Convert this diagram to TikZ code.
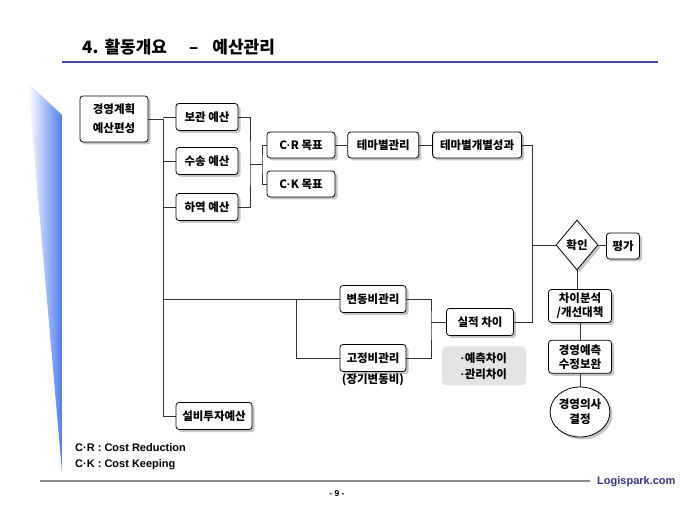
\documentclass[tikz,border=0pt]{standalone}
\usepackage{fontspec}
\setmainfont{Noto Sans CJK KR}
\newfontfamily\latinfont{Liberation Sans}
\usetikzlibrary{positioning, shapes.geometric, shadows}
\definecolor{titleblue}{RGB}{72,72,176}
\definecolor{wedgeblue}{RGB}{80,125,240}
\definecolor{siteblue}{RGB}{52,52,140}
\newcommand\boxfont{\fontsize{11.5}{15}\selectfont\bfseries}
\newcommand\dotmark{{\latinfont·}}
\tikzset{box/.style={draw, rounded corners=3pt, fill=white, line width=0.8pt,
    font=\boxfont, align=center, inner sep=1pt, minimum height=27pt,
    drop shadow={shadow xshift=2.5pt, shadow yshift=-2.5pt, fill=black!45}}}
\tikzset{link/.style={draw=black!80, line width=0.8pt}}
\begin{document}
\begin{tikzpicture}[x=1pt, y=-1pt]
  \fill[white] (0,0) rectangle (680,510);
  \useasboundingbox (0,0) rectangle (680,510);

  % header and side decoration
  \shade[left color=white, right color=wedgeblue] (28,83) -- (62,115) -- (62,472) -- cycle;
  \node[anchor=base west, inner sep=0pt, font=\fontsize{17}{20}\selectfont\bfseries] (title) at (82,54)
    {4.\hspace{6pt}활동개요\hspace{22pt}–\hspace{14pt}예산관리};
  \draw[titleblue, line width=2pt] (62,62) -- (658,62);

  % budget planning
  \node[box, minimum width=68pt, minimum height=46pt] (plan) at (114,119) {경영계획\\[4pt]예산편성};
  \node[box, minimum width=62pt] (storage) at (207,117) {보관 예산};
  \node[box, minimum width=62pt] (transport) at (207,161) {수송 예산};
  \node[box, minimum width=62pt] (handling) at (207,207) {하역 예산};
  \node[box, minimum width=76pt] (capex) at (214,416) {설비투자예산};

  % targets
  \node[box, minimum width=68pt, minimum height=26pt] (cr) at (301,145) {C\dotmark R 목표};
  \node[box, minimum width=68pt, minimum height=26pt] (ck) at (301,184) {C\dotmark K 목표};
  \node[box, minimum width=71pt, minimum height=26pt, right=12pt of cr] (theme) {테마별관리};
  \node[box, minimum width=89pt, minimum height=26pt, right=13pt of theme] (result) {테마별개별성과};

  % cost control
  \node[box, minimum width=66pt] (variable) at (373,299) {변동비관리};
  \node[box, minimum width=66pt] (fixed) at (373,358) {고정비관리};
  \node[below=1pt of fixed, inner sep=1pt, font=\boxfont] (fixednote) {(장기변동비)};
  \node[box, minimum width=67pt] (actual) at (480,322) {실적 차이};
  \node[fill=black!11, rounded corners=4pt, minimum width=84pt, minimum height=39pt,
    align=center, inner sep=1pt, font=\fontsize{11.5}{16}\selectfont\bfseries] (variance) at (484,366)
    {\dotmark 예측차이\\\dotmark 관리차이};

  % review
  \node[draw, diamond, fill=white, line width=0.8pt, minimum width=42pt, minimum height=50pt,
    inner sep=0pt, font=\boxfont, drop shadow={shadow xshift=2.5pt, shadow yshift=-2.5pt, fill=black!45}]
    (check) at (577,245) {확인};
  \node[box, minimum width=33pt, minimum height=26pt] (eval) at (623,246) {평가};
  \node[box, minimum width=63pt, minimum height=33pt, font=\fontsize{11.5}{14}\selectfont\bfseries]
    (gap) at (580,306) {차이분석\\/개선대책};
  \node[box, minimum width=63pt, minimum height=33pt, font=\fontsize{11.5}{14}\selectfont\bfseries,
    below=17pt of gap] (forecast) {경영예측\\수정보완};
  \node[draw, ellipse, fill=white, line width=0.8pt, minimum width=56pt, minimum height=50pt,
    inner sep=0pt, align=center, font=\fontsize{11.5}{15}\selectfont\bfseries,
    drop shadow={shadow xshift=2.5pt, shadow yshift=-2.5pt, fill=black!45}]
    (decide) at (580,412) {경영의사\\결정};

  % connectors
  \coordinate (spine) at (163,119);
  \draw[link] (plan.east) -- (spine);
  \draw[link] (spine |- storage) -- (storage.west);
  \draw[link] (spine) |- (capex.west);
  \draw[link] (spine |- transport) -- (transport.west);
  \draw[link] (spine |- handling) -- (handling.west);
  \draw[link] (spine |- variable) -- (variable.west);

  \coordinate (opsjoin) at (250,164);
  \coordinate (goalsplit) at (262,164);
  \draw[link] (storage.east) -| (opsjoin) |- (handling.east);
  \draw[link] (opsjoin) -- (goalsplit);
  \draw[link] (cr.west) -| (goalsplit) |- (ck.west);
  \draw[link] (cr) -- (theme);
  \draw[link] (theme) -- (result);

  \coordinate (resultdrop) at (532,145);
  \draw[link] (result.east) -- (resultdrop) |- (actual.east);
  \draw[link] (resultdrop |- check) -- (check.west);
  \draw[link] (check) -- (eval);
  \draw[link] (check.south) -- (check.south |- gap.north);
  \draw[link] (gap) -- (forecast);
  \draw[link] (forecast) -- (decide);

  \coordinate (costsplit) at (296,299);
  \draw[link] (costsplit) |- (fixed.west);
  \coordinate (costjoin) at (431,322);
  \draw[link] (variable.east) -| (costjoin) |- (fixed.east);
  \draw[link] (costjoin) -- (actual.west);

  % legend and footer
  \node[anchor=base west, inner sep=0pt, font=\latinfont\fontsize{11}{13}\selectfont\bfseries] (legendcr) at (75,451) {C·R : Cost Reduction};
  \node[anchor=base west, inner sep=0pt, font=\latinfont\fontsize{11}{13}\selectfont\bfseries] (legendck) at (75,467) {C·K : Cost Keeping};
  \draw[black!45, line width=1.2pt] (40,481) -- (590,481);
  \node[anchor=base west, inner sep=0pt, text=siteblue, font=\latinfont\fontsize{11}{13}\selectfont\bfseries] (site) at (597,484) {Logispark.com};
  \node[anchor=base, inner sep=0pt, font=\latinfont\fontsize{8.5}{10}\selectfont\bfseries] (page) at (337,496) {- 9 -};
\end{tikzpicture}
\end{document}
